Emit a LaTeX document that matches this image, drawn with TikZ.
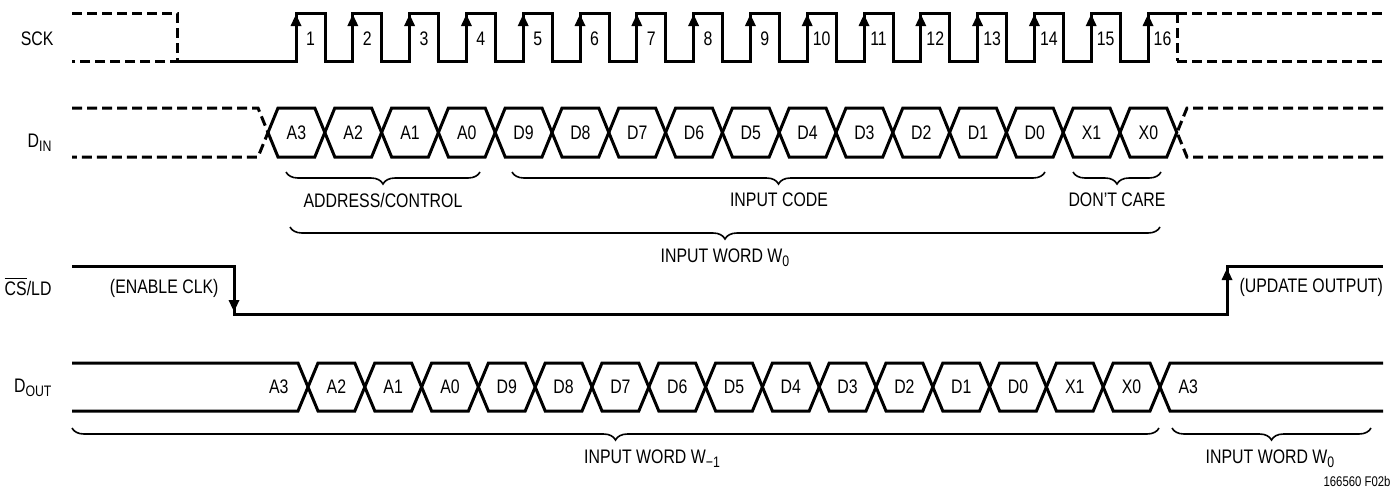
\documentclass[tikz,border=0pt]{standalone}
\usepackage{fontspec}
\setmainfont{Liberation Sans}[FakeStretch=0.81]
\usetikzlibrary{arrows.meta,decorations.pathreplacing}
\newcommand\lowidx[1]{\raisebox{-2.2pt}{\fontsize{7.6}{8}\selectfont #1}}
\begin{document}
\begin{tikzpicture}[x=0.5pt,y=-0.5pt,line width=1.5pt,>={Triangle[width=5pt,length=6pt]},
	every node/.style={inner sep=0pt,font=\fontsize{9.8}{11}\selectfont},
	dsh/.style={dash pattern=on 5pt off 2.5pt},
	brc/.style={decorate,decoration={brace,mirror,amplitude=6pt},line width=0.8pt}]
	\useasboundingbox (0,0) rectangle (1396,493);
	% SCK
	\node[anchor=base east] (sck) at (55,45) {SCK};
	\draw[dsh] (72,13) -- (177,13) -- (177,61) -- (72,61);
	\draw (177,61) \foreach \k in {0,...,14} { -- ({296+56.8*\k},61) -- ({296+56.8*\k},13) -- ({325+56.8*\k},13) -- ({325+56.8*\k},61) } -- (1148,61) -- (1148,13) -- (1177,13);
	\draw[dsh] (1177,13) -- (1177,61);
	\draw[dsh] (1177,13) -- (1383,13);
	\draw[dsh] (1177,61) -- (1383,61);
	\foreach \k in {1,...,16} {
		\pgfmathsetmacro\r{296+56.8*(\k-1)}
		\draw[->] (\r,36) -- (\r,14);
		\node[anchor=base] (n\k) at (\r+14.5,45) {\k};
	}
	% DIN
	\node[anchor=base east] (din) at (53,147) {D\lowidx{IN}};
	\draw[dsh] (72,108) -- (258,108) -- (268,132.5) -- (258,157) -- (72,157);
	\draw[dsh] (1383,108) -- (1187,108) -- (1177,132.5) -- (1187,157) -- (1383,157);
	\foreach \k/\t in {0/A3,1/A2,2/A1,3/A0,4/D9,5/D8,6/D7,7/D6,8/D5,9/D4,10/D3,11/D2,12/D1,13/D0,14/X1,15/X0} {
		\pgfmathsetmacro\a{268+56.8*\k}
		\pgfmathsetmacro\b{\a+56.8}
		\draw (\a,132.5) -- (\a+10,108) -- (\b-10,108) -- (\b,132.5) -- (\b-10,157) -- (\a+10,157) -- cycle;
		\node (di\k) at ({(\a+\b)/2},132.5) {\t};
	}
	\draw[brc] (286,172) -- (480,172);
	\node (addr) at (383,200) {ADDRESS/CONTROL};
	\draw[brc] (512,172) -- (1045,172);
	\node (code) at (779,200) {INPUT CODE};
	\draw[brc] (1073,172) -- (1161,172);
	\node (dc) at (1117,200) {DON’T CARE};
	\draw[brc] (290,227) -- (1160,227);
	\node[anchor=base] (wnew) at (725,262) {INPUT WORD W\lowidx{0}};
	% CS/LD
	\node[anchor=base east] (cs) at (53,295) {$\overline{\mbox{CS}}$/LD};
	\draw (72,266) -- (234,266) -- (234,314) -- (1227,314) -- (1227,266) -- (1383,266);
	\draw[->] (234,288) -- (234,312);
	\draw[->] (1227,292) -- (1227,268);
	\node[anchor=east] (en) at (220,288) {(ENABLE CLK)};
	\node[anchor=west] (up) at (1238,287) {(UPDATE OUTPUT)};
	% DOUT
	\node[anchor=base east] (dout) at (53,392) {D\lowidx{OUT}};
	\draw (72,363) -- (298,363) -- (308,387) -- (298,411) -- (72,411);
	\draw (1383,363) -- (1170,363) -- (1160,387) -- (1170,411) -- (1383,411);
	\node[anchor=east] (do) at (290,387) {A3};
	\node[anchor=west] (dend) at (1177,387) {A3};
	\foreach \k/\t in {0/A2,1/A1,2/A0,3/D9,4/D8,5/D7,6/D6,7/D5,8/D4,9/D3,10/D2,11/D1,12/D0,13/X1,14/X0} {
		\pgfmathsetmacro\a{308+56.8*\k}
		\pgfmathsetmacro\b{\a+56.8}
		\draw (\a,387) -- (\a+10,363) -- (\b-10,363) -- (\b,387) -- (\b-10,411) -- (\a+10,411) -- cycle;
		\node (do\k) at ({(\a+\b)/2},387) {\t};
	}
	\draw[brc] (72,428) -- (1159,428);
	\node[anchor=base] (wold) at (652,463) {INPUT WORD W\lowidx{−1}};
	\draw[brc] (1172,428) -- (1371,428);
	\node[anchor=base] (wnext) at (1270,463) {INPUT WORD W\lowidx{0}};
	\node[font=\fontsize{7}{8}\selectfont] (fig) at (1357,481) {166560 F02b};
\end{tikzpicture}
\end{document}
